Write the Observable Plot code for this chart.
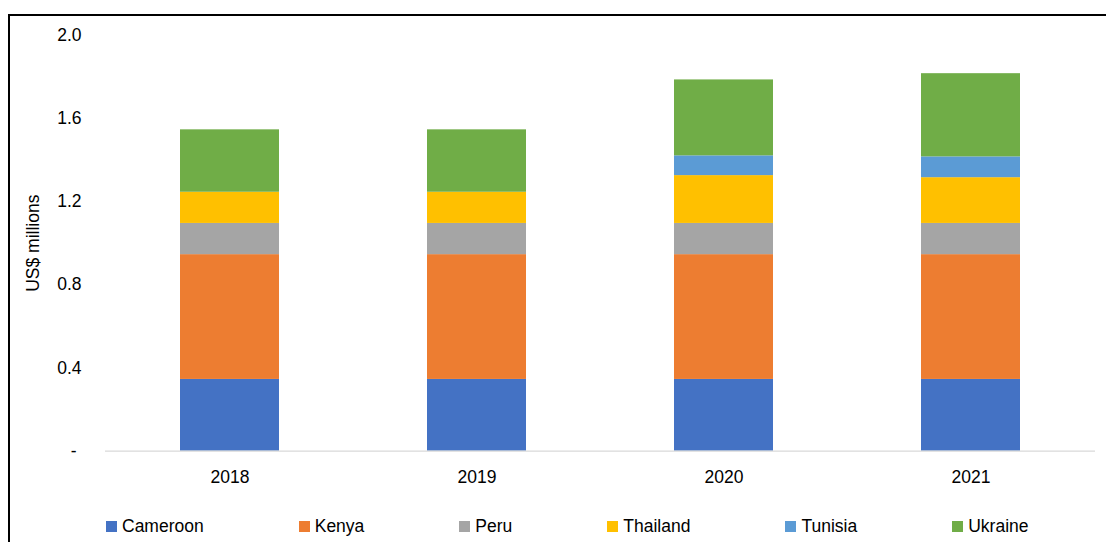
<!DOCTYPE html>
<html>
<head>
<meta charset="utf-8">
<script src="https://cdn.jsdelivr.net/npm/d3@7"></script>
<script src="https://cdn.jsdelivr.net/npm/@observablehq/plot@0.6"></script>
<style>
  html, body { margin: 0; padding: 0; background: #fff; overflow: hidden; }
  body { width: 1106px; height: 542px; position: relative; font-family: "Liberation Sans", Arial, sans-serif; }
  #frame { position: absolute; left: 8px; top: 14px; width: 1120px; height: 560px; border: 2px solid #000; box-sizing: border-box; }
  #chart { position: absolute; left: 0; top: 0; }
  #legend { position: absolute; left: 106px; top: 516px; display: flex; gap: 95px; font-size: 17.5px; color: #000; line-height: 20px; }
  .item { display: flex; align-items: center; white-space: nowrap; }
  .sw { width: 11px; height: 11px; margin-right: 5px; }
</style>
</head>
<body>
<div id="frame"></div>
<div id="chart"></div>
<div id="legend"></div>
<script>
const years = ["2018", "2019", "2020", "2021"];
const countries = ["Cameroon", "Kenya", "Peru", "Thailand", "Tunisia", "Ukraine"];
const colors = ["#4472C4", "#ED7D31", "#A5A5A5", "#FFC000", "#5B9BD5", "#70AD47"];
const cameroon = [0.345, 0.345, 0.345, 0.345];
const kenya    = [0.60, 0.60, 0.60, 0.60];
const peru     = [0.15, 0.15, 0.15, 0.15];
const thailand = [0.15, 0.15, 0.23, 0.22];
const tunisia  = [0, 0, 0.095, 0.10];
const ukraine  = [0.30, 0.30, 0.365, 0.40];
const yTicks = [0, 0.4, 0.8, 1.2, 1.6, 2.0];

const series = [cameroon, kenya, peru, thailand, tunisia, ukraine];
const data = [];
countries.forEach((c, ci) => years.forEach((y, yi) => data.push({year: y, country: c, value: series[ci][yi]})));

const chart = Plot.plot({
  width: 1106,
  height: 500,
  marginLeft: 105,
  marginRight: 11,
  marginTop: 34.7,
  marginBottom: 49.3,
  style: {fontFamily: "'Liberation Sans', Arial, sans-serif", fontSize: "17.5px", color: "#000", background: "transparent"},
  x: {domain: years, paddingInner: 0.6, paddingOuter: 0.3, label: null},
  y: {domain: [0, 2.0], label: null},
  color: {domain: countries, range: colors},
  marks: [
    Plot.barY(data, {x: "year", y: "value", fill: "country", order: null}),
    Plot.ruleY([0], {stroke: "#d9d9d9", strokeWidth: 1.3}),
    Plot.axisX({tickSize: 0, tickPadding: 19, label: null, fontSize: 17.5}),
    Plot.axisY({ticks: yTicks, tickSize: 0, tickPadding: 24, fontSize: 17.5,
      tickFormat: d => d === 0 ? "-\u00a0" : d.toFixed(1),
      label: "US$ millions", labelAnchor: "center", labelArrow: "none", labelOffset: 79})
  ]
});
document.getElementById("chart").appendChild(chart);

const legend = document.getElementById("legend");
countries.forEach((c, i) => {
  const it = document.createElement("div");
  it.className = "item";
  const sw = document.createElement("span");
  sw.className = "sw";
  sw.style.background = colors[i];
  const t = document.createElement("span");
  t.textContent = c;
  it.appendChild(sw); it.appendChild(t);
  legend.appendChild(it);
});
</script>
</body>
</html>
